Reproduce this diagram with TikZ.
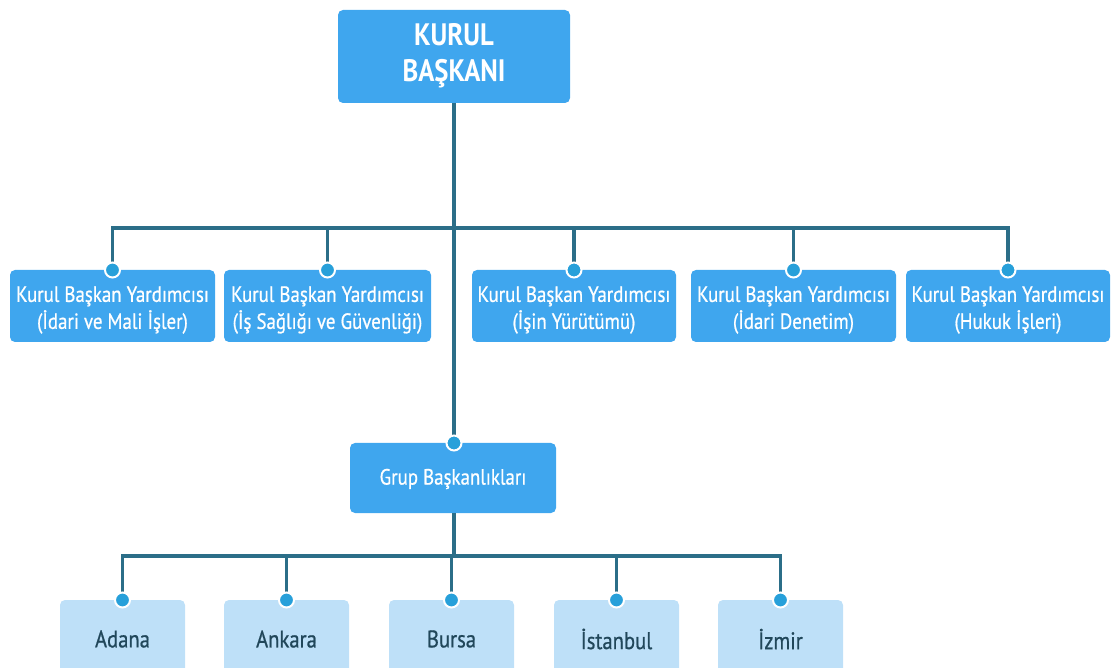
\documentclass[tikz,border=0pt]{standalone}
\usepackage{fontspec}
\setmainfont{PT Sans}[FakeStretch=0.86]
\newfontfamily\medfont{PT Sans}[FakeStretch=0.86,FakeBold=0.7]
\begin{document}
\begin{tikzpicture}[x=1pt,y=-1pt,
  link/.style={draw=linecol,line width=3.4pt},
  bluebox/.style={fill=boxblue,rounded corners=5pt,text=white},
  palebox/.style={fill=boxpale,rounded corners=5pt,text=textdark},
  dot/.style={circle,fill=dotblue,draw=white,line width=2pt,inner sep=0pt,minimum size=15pt},
]
\definecolor{boxblue}{HTML}{3FA6EE}
\definecolor{boxpale}{HTML}{BEE0F8}
\definecolor{linecol}{HTML}{2B6E88}
\definecolor{dotblue}{HTML}{27A0DA}
\definecolor{textdark}{HTML}{21475A}
\useasboundingbox (0,0) rectangle (1112,668);
\begin{scope}
\clip (0,0) rectangle (1112,668);
% head box
\path[bluebox] (338,10) rectangle (570,103);
\node[text=white,font=\fontsize{31}{36}\selectfont\bfseries,align=center] (head) at (454,56) {KURUL\\BAŞKANI};
\coordinate (headS) at (454,103);
% deputy boxes
\foreach \n/\a/\b/\t in {d1/10/215/(İdari ve Mali İşler),d2/224/431/(İş Sağlığı ve Güvenliği),d3/472/676/(İşin Yürütümü),d4/691/896/(İdari Denetim),d5/906/1110/(Hukuk İşleri)}{
  \path[bluebox] (\a,270) rectangle (\b,342);
  \node[text=white,font=\medfont\fontsize{22}{27}\selectfont,align=center] (\n) at ({(\a+\b)/2},310) {Kurul Başkan Yardımcısı\\\t};
  \coordinate (\n N) at ({(\a+\b)/2},270);
}
% group box
\path[bluebox] (350,443) rectangle (556,513);
\node[text=white,font=\medfont\fontsize{22}{26}\selectfont] (grp) at (453,479) {Grup Başkanlıkları};
\coordinate (grpN) at (454,443);
\coordinate (grpS) at (454,513);
% city boxes
\foreach \n/\a/\t in {c1/60/Adana,c2/224/Ankara,c3/389/Bursa,c4/554/İstanbul,c5/718/İzmir}{
  \path[palebox] (\a,600) rectangle ({\a+125},690);
  \node[text=textdark,font=\medfont\fontsize{24}{28}\selectfont] (\n) at ({\a+62.5},639) {\t};
  \coordinate (\n N) at ({\a+62.5},600);
}
% connectors
\draw[link] (headS) -- (grpN);
\draw[link] (d1N) |- (454,228) -| (d5N);
\foreach \n in {d2,d3,d4}{ \draw[link] (\n N) |- (454,228); }
\draw[link] (grpS) -- (454,556);
\draw[link] (c1N) |- (454,556) -| (c5N);
\foreach \n in {c2,c3,c4}{ \draw[link] (\n N) |- (454,556); }
% junction dots
\foreach \n in {d1N,d2N,d3N,d4N,d5N,grpN,c1N,c2N,c3N,c4N,c5N}{ \node[dot] at (\n) {}; }
\end{scope}
\end{tikzpicture}
\end{document}
